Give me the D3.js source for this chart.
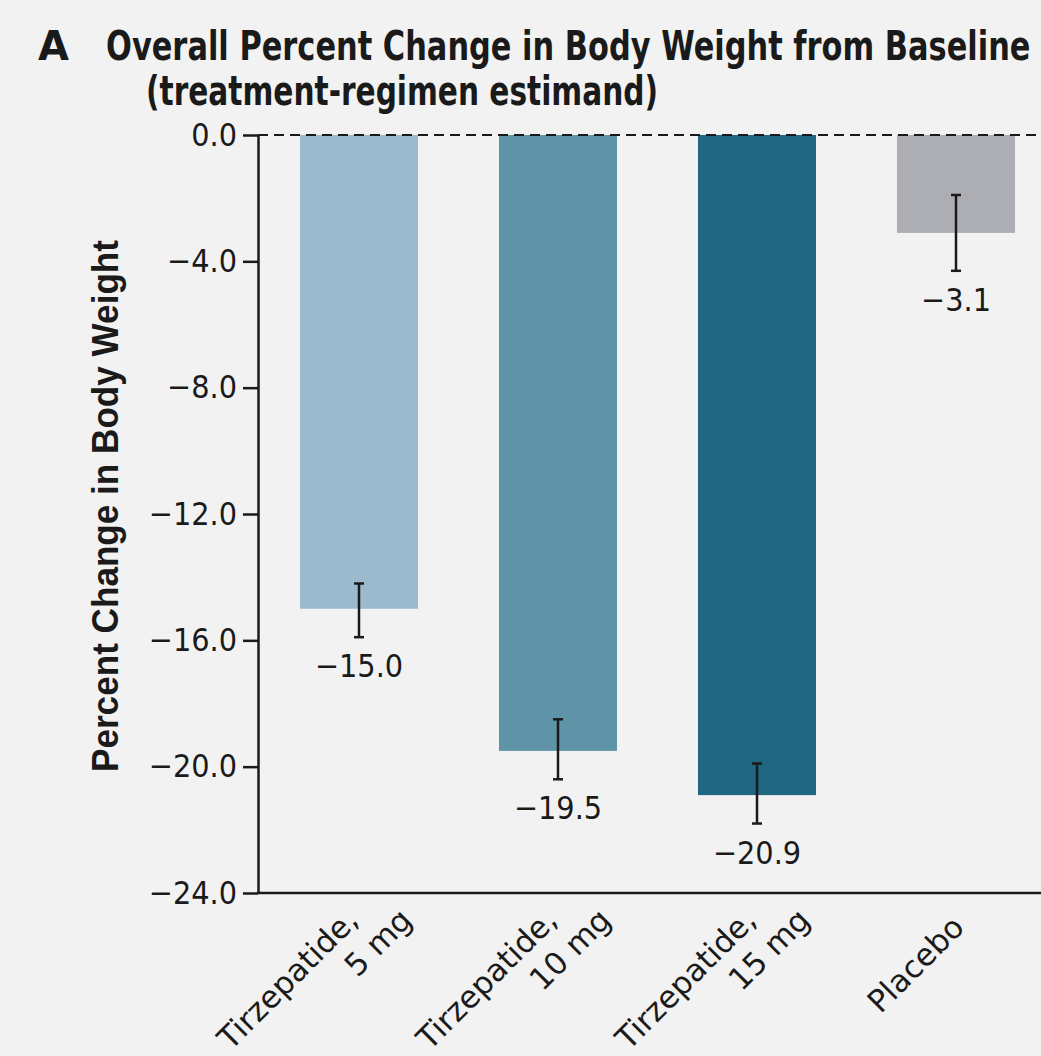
<!DOCTYPE html>
<html>
<head>
<meta charset="utf-8">
<script src="https://cdn.jsdelivr.net/npm/d3@7"></script>
<style>
  html, body { margin: 0; padding: 0; background: #f2f2f2; }
  svg { display: block; }
</style>
</head>
<body>
<svg id="svg1"></svg>
<script>
// data
const categories = ["Tirzepatide, 5 mg", "Tirzepatide, 10 mg", "Tirzepatide, 15 mg", "Placebo"];
const categoryLines = [["Tirzepatide,", "5 mg"], ["Tirzepatide,", "10 mg"], ["Tirzepatide,", "15 mg"], ["Placebo"]];
const meanChange = [-15.0, -19.5, -20.9, -3.1];
const ciLower = [-15.9, -20.4, -21.8, -4.3];
const ciUpper = [-14.2, -18.5, -19.9, -1.9];
const yTicks = [0, -4, -8, -12, -16, -20, -24];
const barColors = ["#9bbacd", "#5e93a8", "#1f6781", "#adadb4"];

const width = 1041, height = 1056;
const svg = d3.select("#svg1").attr("width", width).attr("height", height);

svg.append("rect").attr("width", width).attr("height", height).attr("fill", "#f2f2f2");

const axisX = 258, plotTop = 135, plotBottom = 893;

const y = d3.scaleLinear().domain([-24, 0]).range([plotBottom, plotTop]);
const x = d3.scaleBand().domain(categories).range([axisX, 1057])
  .paddingInner(0.407).paddingOuter(0.211);

const data = categories.map((c, i) => ({
  cat: c, lines: categoryLines[i], value: meanChange[i],
  lo: ciLower[i], hi: ciUpper[i], color: barColors[i]
}));

// squeeze a title horizontally so it spans the given width (condensed look)
function condensed(px, py, str, size, targetW) {
  const g = svg.append("g");
  const t = g.append("text")
    .attr("font-family", "'DejaVu Sans', sans-serif").attr("font-weight", "bold")
    .attr("font-size", size).attr("fill", "#1a1a1a")
    .text(str);
  const w = t.node().getComputedTextLength();
  const s = Math.min(1, targetW / w);
  g.attr("transform", `translate(${px},${py}) scale(${s},1)`);
  return g;
}

// titles
svg.append("text").attr("x", 38).attr("y", 60)
  .attr("font-family", "'DejaVu Sans', sans-serif").attr("font-weight", "bold").attr("font-size", 40)
  .attr("fill", "#1a1a1a").text("A");
condensed(106, 60, "Overall Percent Change in Body Weight from Baseline", 40, 925);
condensed(146, 105, "(treatment-regimen estimand)", 40, 512);

// y axis title
svg.append("text")
  .attr("transform", "translate(118,506) rotate(-90)")
  .attr("text-anchor", "middle")
  .attr("font-family", "'Liberation Sans', sans-serif").attr("font-weight", "bold").attr("font-size", 37)
  .attr("fill", "#1a1a1a")
  .attr("textLength", 532).attr("lengthAdjust", "spacingAndGlyphs")
  .text("Percent Change in Body Weight");

// bars
svg.append("g").selectAll("rect")
  .data(data)
  .join("rect")
  .attr("x", d => x(d.cat))
  .attr("y", y(0))
  .attr("width", x.bandwidth())
  .attr("height", d => y(d.value) - y(0))
  .attr("fill", d => d.color);

// zero line, dashed
svg.append("line")
  .attr("x1", axisX).attr("x2", width)
  .attr("y1", y(0)).attr("y2", y(0))
  .attr("stroke", "#1a1a1a").attr("stroke-width", 2.2)
  .attr("stroke-dasharray", "10,6");

// error bars
const err = svg.append("g").attr("stroke", "#1a1a1a").attr("stroke-width", 2.5);
data.forEach(d => {
  const cx = x(d.cat) + x.bandwidth() / 2;
  err.append("line").attr("x1", cx).attr("x2", cx).attr("y1", y(d.hi)).attr("y2", y(d.lo));
  err.append("line").attr("x1", cx - 5).attr("x2", cx + 5).attr("y1", y(d.hi)).attr("y2", y(d.hi));
  err.append("line").attr("x1", cx - 5).attr("x2", cx + 5).attr("y1", y(d.lo)).attr("y2", y(d.lo));
});

const numFont = "'DejaVu Sans Condensed', 'DejaVu Sans', sans-serif";
const fmt = d3.format(".1f");

// value labels
svg.append("g").selectAll("text")
  .data(data)
  .join("text")
  .attr("x", d => x(d.cat) + x.bandwidth() / 2)
  .attr("y", d => y(d.lo) + 40)
  .attr("text-anchor", "middle")
  .attr("font-family", numFont).attr("font-size", 32)
  .attr("fill", "#1a1a1a")
  .text(d => fmt(d.value));

// y axis
const yAxis = svg.append("g")
  .attr("transform", `translate(${axisX},0)`)
  .call(d3.axisLeft(y).tickValues(yTicks).tickFormat(fmt).tickSize(15).tickSizeOuter(0).tickPadding(6));
yAxis.select(".domain").attr("stroke", "#1a1a1a").attr("stroke-width", 2.5);
yAxis.selectAll(".tick line").attr("stroke", "#1a1a1a").attr("stroke-width", 2.5);
yAxis.selectAll(".tick text")
  .attr("font-family", numFont).attr("font-size", 32).attr("fill", "#1a1a1a");

// bottom axis line
svg.append("line")
  .attr("x1", axisX - 1).attr("x2", width)
  .attr("y1", plotBottom).attr("y2", plotBottom)
  .attr("stroke", "#1a1a1a").attr("stroke-width", 2.5);

// category labels, rotated
const catG = svg.append("g").selectAll("g")
  .data(data)
  .join("g")
  .attr("transform", d => {
    const cx = x(d.cat) + x.bandwidth() / 2;
    return d.lines.length > 1
      ? `translate(${cx + 1},${plotBottom + 29}) rotate(-45)`
      : `translate(${cx + 10},${plotBottom + 36}) rotate(-45)`;
  })
  .attr("font-family", "'DejaVu Sans', sans-serif").attr("font-size", 31)
  .attr("fill", "#1a1a1a")
  .attr("text-anchor", "end");

catG.selectAll("text")
  .data(d => d.lines)
  .join("text")
  .attr("x", (l, i) => i * 38)
  .attr("y", (l, i) => i * 38)
  .text(l => l);
</script>
</body>
</html>
